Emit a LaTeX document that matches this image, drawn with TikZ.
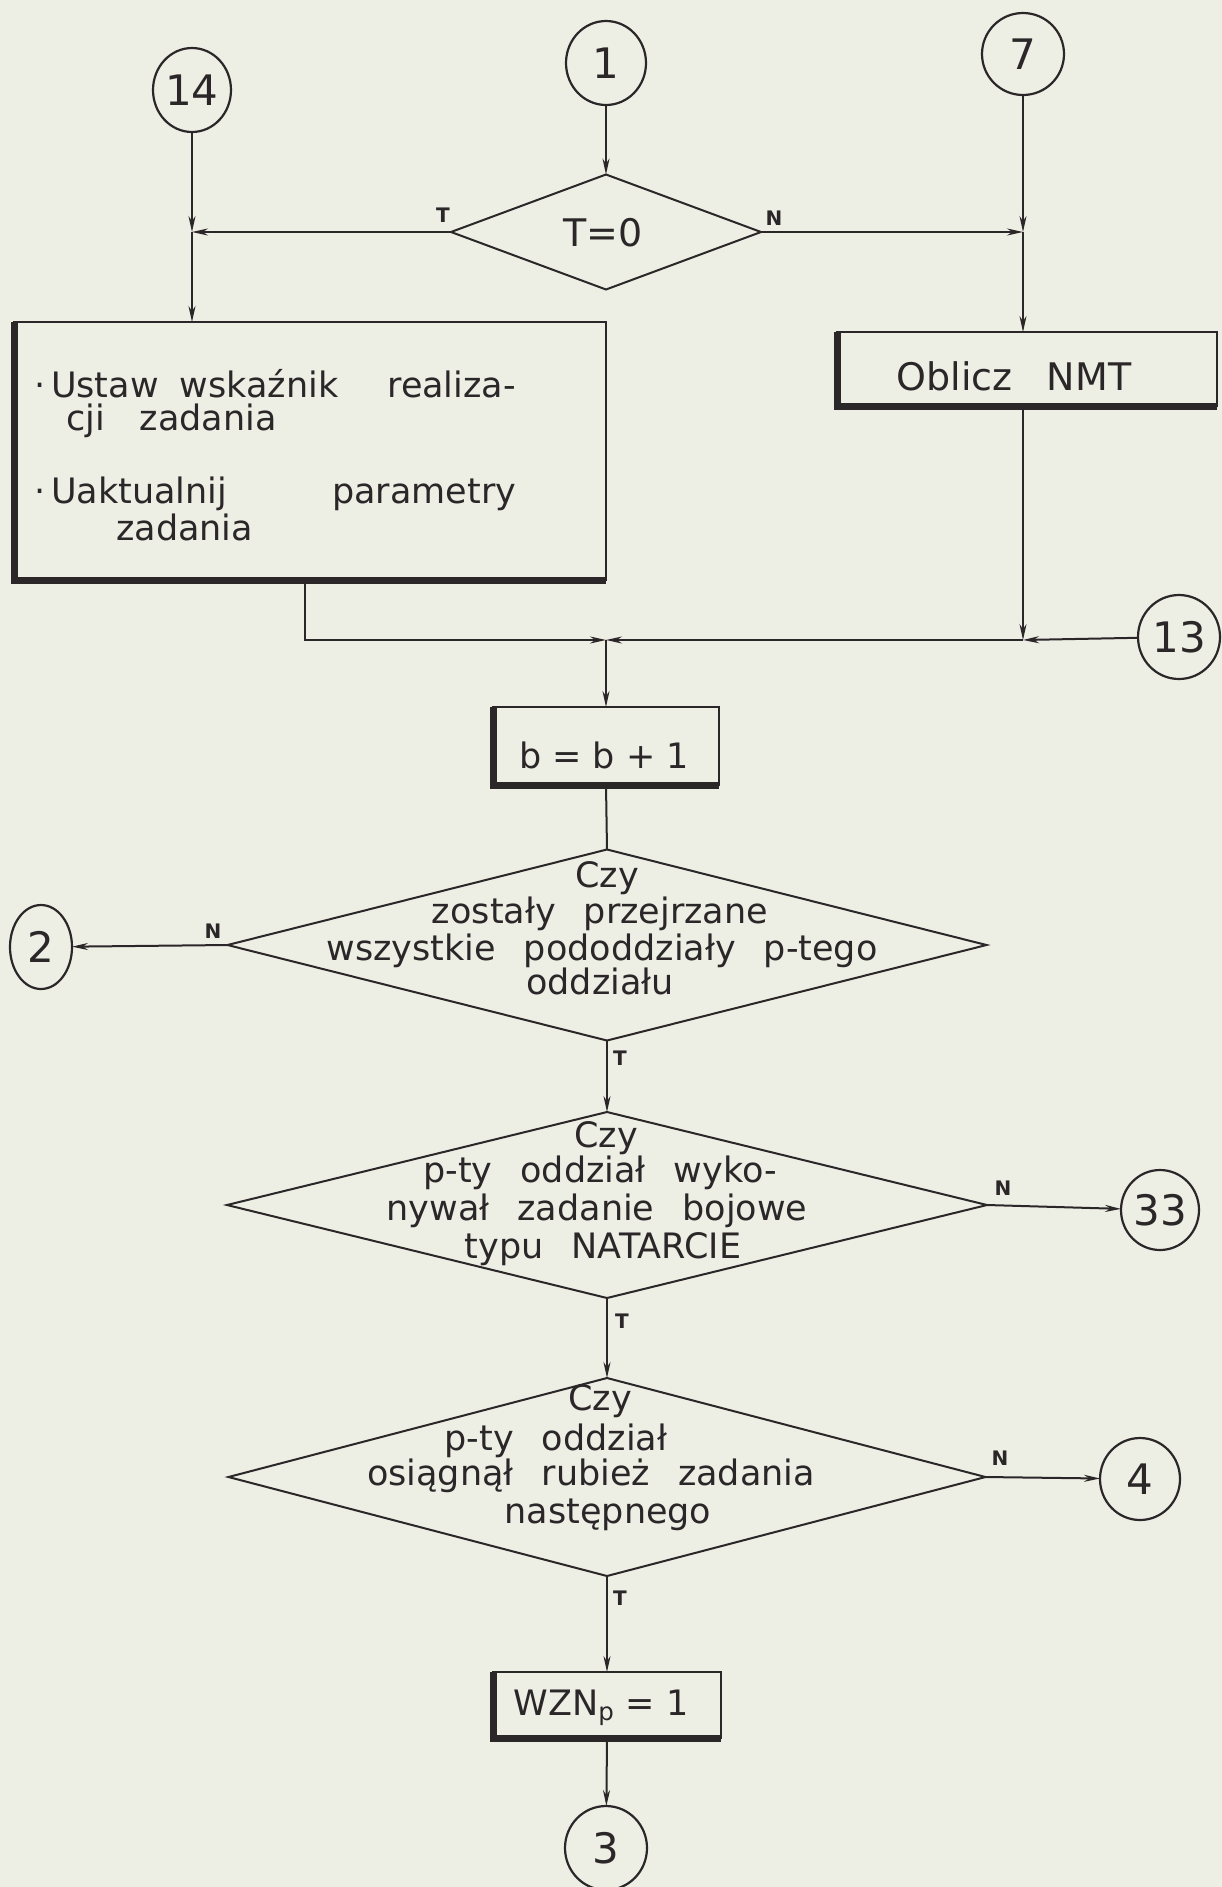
\documentclass[tikz,border=0pt]{standalone}
\usepackage{fontspec}
\setmainfont{DejaVu Sans}
\usetikzlibrary{shapes.geometric,arrows.meta}
\definecolor{paper}{HTML}{EDEEE4}
\definecolor{ink}{HTML}{2B2729}
\newcommand\wgap{\hspace{0.8em}}
\begin{document}
\begin{tikzpicture}[x=1pt,y=-1pt,
  line/.style={draw=ink,line width=2pt},
  arr/.style={line,-{Stealth[length=16pt,width=7pt]}},
  conn/.style={ellipse,draw=ink,line width=2.2pt,inner sep=0pt,outer sep=0pt,
    text=ink,font=\fontsize{42}{42}\selectfont},
  stepbox/.style={rectangle,draw=ink,line width=2pt,inner sep=0pt,outer sep=0pt},
  decision/.style={diamond,draw=ink,line width=2pt,inner sep=0pt,outer sep=0pt},
  shadowedge/.style={draw=ink,line width=7pt},
  txt/.style={text=ink,inner sep=0pt,anchor=base,font=\fontsize{35}{40}\selectfont},
  ltxt/.style={txt,anchor=base west},
  lbl/.style={text=ink,inner sep=0pt,anchor=base,font=\fontsize{20}{20}\selectfont\bfseries},
]
\fill[paper] (0,0) rectangle (1222,1887);
\useasboundingbox (0,0) rectangle (1222,1887);

% connectors (circles)
\node[conn,minimum width=78pt,minimum height=84pt] (c14) at (192,90) {14};
\node[conn,minimum width=80pt,minimum height=84pt] (c1) at (606,63) {1};
\node[conn,minimum width=82pt,minimum height=82pt] (c7) at (1023,54) {7};
\node[conn,minimum width=82pt,minimum height=84pt] (c13) at (1179,637) {13};
\node[conn,minimum width=62pt,minimum height=84pt] (c2) at (41,947) {2};
\node[conn,minimum width=78pt,minimum height=80pt] (c33) at (1160,1210) {33};
\node[conn,minimum width=80pt,minimum height=82pt] (c4) at (1140,1479) {4};
\node[conn,minimum width=82pt,minimum height=84pt] (c3) at (606,1848) {3};

% decisions
\node[decision,minimum width=310pt,minimum height=115pt] (d0) at (606,232) {};
\node[txt,font=\fontsize{38}{40}\selectfont] (d0t) at (603,246) {T=0};
\node[decision,minimum width=759pt,minimum height=191pt] (d2) at (607,945) {};
\node[decision,minimum width=760pt,minimum height=186pt] (d3) at (607,1205) {};
\node[decision,minimum width=757pt,minimum height=198pt] (d4) at (607,1477) {};

% process boxes
\node[stepbox,minimum width=592pt,minimum height=258pt] (box1) at (310,451) {};
\node[stepbox,minimum width=380pt,minimum height=74pt] (nmt) at (1027,369) {};
\node[stepbox,minimum width=226pt,minimum height=78pt] (bb) at (606,746) {};
\node[stepbox,minimum width=228pt,minimum height=66pt] (wzn) at (607,1705) {};

% heavy left and bottom edges of the boxes
\foreach \b in {box1,nmt,bb,wzn}
  \draw[shadowedge] (\b.north west) -- (\b.south west) -- (\b.south east);

% box texts
\node[ltxt] (t1a) at (34,397) {·\,Ustaw\hspace{0.6em}wskaźnik\hspace{1.4em}realiza-};
\node[ltxt] (t1b) at (66,430) {cji\hspace{1em}zadania};
\node[ltxt] (t1c) at (34,503) {·\,Uaktualnij\hspace{3em}parametry};
\node[ltxt] (t1d) at (116,540) {zadania};
\node[txt,font=\fontsize{38}{40}\selectfont] (tnmt) at (1014,390) {Oblicz\hspace{0.9em}NMT};
\node[txt] (tbb) at (604,768) {b = b + 1};
\node[txt] (twzn) at (601,1715) {WZN$_{\mathrm{p}}$ = 1};

% decision texts
\node[txt] (t2a) at (607,887) {Czy};
\node[txt] (t2b) at (600,923) {zostały\wgap przejrzane};
\node[txt] (t2c) at (602,960) {wszystkie\wgap pododdziały\wgap p-tego};
\node[txt] (t2d) at (600,994) {oddziału};

\node[txt] (t3a) at (606,1147) {Czy};
\node[txt] (t3b) at (600,1182) {p-ty\wgap oddział\wgap wyko-};
\node[txt] (t3c) at (597,1220) {nywał\wgap zadanie\wgap bojowe};
\node[txt] (t3d) at (603,1258) {typu\wgap NATARCIE};

\node[txt] (t4a) at (600,1410) {Czy};
\node[txt] (t4b) at (556,1450) {p-ty\wgap oddział};
\node[txt] (t4c) at (591,1485) {osiągnął\wgap rubież\wgap zadania};
\node[txt] (t4d) at (608,1523) {następnego};

% branch labels
\node[lbl] (l0t) at (443,222) {T};
\node[lbl] (l0n) at (774,225) {N};
\node[lbl] (l2n) at (213,938) {N};
\node[lbl] (l2t) at (620,1065) {T};
\node[lbl] (l3n) at (1003,1195) {N};
\node[lbl] (l3t) at (622,1328) {T};
\node[lbl] (l4n) at (1000,1465) {N};
\node[lbl] (l4t) at (620,1605) {T};

% junction points
\coordinate (j14) at (192,232);
\coordinate (j7) at (1023,232);
\coordinate (jr) at (1023,640);
\coordinate (jm) at (606,640);
\coordinate (jl) at (305,640);

% flow lines
\draw[arr] (c1) -- (d0.north);
\draw[arr] (d0.west) -- (j14);
\draw[arr] (d0.east) -- (j7);
\draw[arr] (c14) -- (j14);
\draw[arr] (j14) -- (j14 |- box1.north);
\draw[arr] (c7) -- (j7);
\draw[arr] (j7) -- (j7 |- nmt.north);
\draw[arr] (j7 |- nmt.south) -- (jr);
\draw[arr] (c13) -- (jr);
\draw[arr] (jr) -- (jm);
\draw[arr] (jl |- box1.south) -- (jl) -- (jm);
\draw[arr] (jm) -- (bb.north);
\draw[line] (bb.south) -- (d2.north);
\draw[arr] (d2.west) -- (c2);
\draw[arr] (d2.south) -- (d3.north);
\draw[arr] (d3.east) -- (c33);
\draw[arr] (d3.south) -- (d4.north);
\draw[arr] (d4.east) -- (c4);
\draw[arr] (d4.south) -- (wzn.north);
\draw[arr] (wzn.south) -- (c3);
\end{tikzpicture}
\end{document}
